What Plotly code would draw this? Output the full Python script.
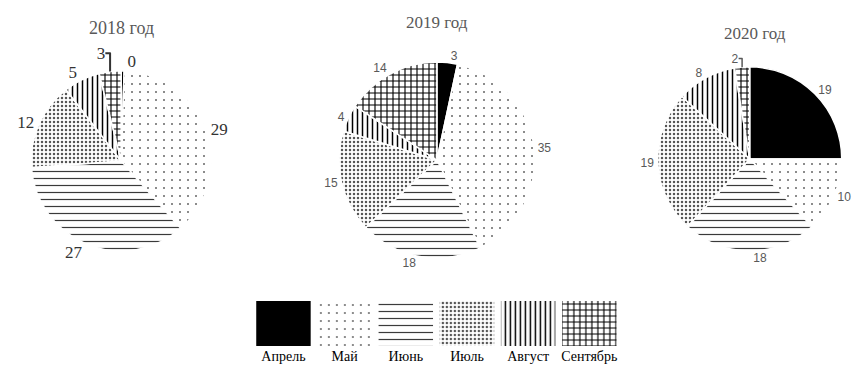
import plotly.graph_objects as go

# months and per-year values
months = ["Апрель", "Май", "Июнь", "Июль", "Август", "Сентябрь"]
values_2018 = [0.4, 29, 27, 12, 5, 3]
values_2019 = [3, 35, 18, 15, 4, 14]
values_2020 = [19, 10, 18, 19, 8, 2]
years = ["2018 год", "2019 год", "2020 год"]

# pattern per month (black & white print style)
shapes = ["", ".", "-", ".", "|", "+"]
sizes = [8, 8, 7, 4, 5, 6]
solid = [1, 0.05, 0.17, 0.3, 0.3, 0.34]
fg = ["black", "#666666", "#3a3a3a", "#555555", "black", "black"]
bg = ["black", "white", "white", "white", "white", "white"]

pattern = dict(shape=shapes, size=sizes, solidity=solid, fgcolor=fg,
               bgcolor=bg, fillmode="replace")

fig = go.Figure()

domains = [
    dict(x=[0.0366, 0.2485], y=[0.313, 0.810]),
    dict(x=[0.3987, 0.6293], y=[0.295, 0.833]),
    dict(x=[0.7737, 0.9903], y=[0.313, 0.821]),
]
fonts = [
    dict(family="Liberation Serif", size=17, color="#333333"),
    dict(family="Liberation Sans", size=12, color="#595959"),
    dict(family="Liberation Sans", size=12, color="#595959"),
]

for vals, dom, fnt in zip([values_2018, values_2019, values_2020], domains, fonts):
    fig.add_trace(go.Pie(
        labels=months, values=vals, sort=False, direction="clockwise",
        rotation=0, domain=dom, textposition="outside",
        texttemplate="%{value:.0f}", textfont=fnt, showlegend=False,
        marker=dict(colors=bg, pattern=pattern,
                    line=dict(color="white", width=1.5)),
        hoverinfo="label+value",
    ))

# legend drawn as a strip of patterned boxes, one per month
for i, m in enumerate(months):
    fig.add_trace(go.Bar(
        x=[m], y=[1], width=0.89, showlegend=False,
        marker=dict(color=bg[i], line=dict(width=0),
                    pattern=dict(shape=shapes[i], size=sizes[i],
                                 solidity=solid[i], fgcolor=fg[i],
                                 bgcolor=bg[i], fillmode="replace")),
        hoverinfo="x",
    ))

title_x = [0.1425, 0.514, 0.888]
title_y = [0.924, 0.940, 0.910]
title_size = [18, 17, 17]
for t, tx, ty, ts in zip(years, title_x, title_y, title_size):
    fig.add_annotation(text=t, x=tx, y=ty, xref="paper", yref="paper",
                       xanchor="center", yanchor="middle", showarrow=False,
                       font=dict(family="Liberation Serif", size=ts, color="#595959"))

fig.update_layout(
    width=856, height=367,
    margin=dict(l=0, r=0, t=0, b=0),
    paper_bgcolor="white", plot_bgcolor="white",
    barmode="overlay",
    xaxis=dict(domain=[0.2975, 0.7293], showgrid=False, zeroline=False,
               showline=False, ticks="", fixedrange=True,
               categoryorder="array", categoryarray=months,
               tickfont=dict(family="Liberation Serif", size=14, color="black")),
    yaxis=dict(domain=[0.0572, 0.1798], range=[0, 1], visible=False,
               fixedrange=True),
)

fig.write_html("out.html", config={"displayModeBar": False},
               post_script="document.body.style.margin='0';")
